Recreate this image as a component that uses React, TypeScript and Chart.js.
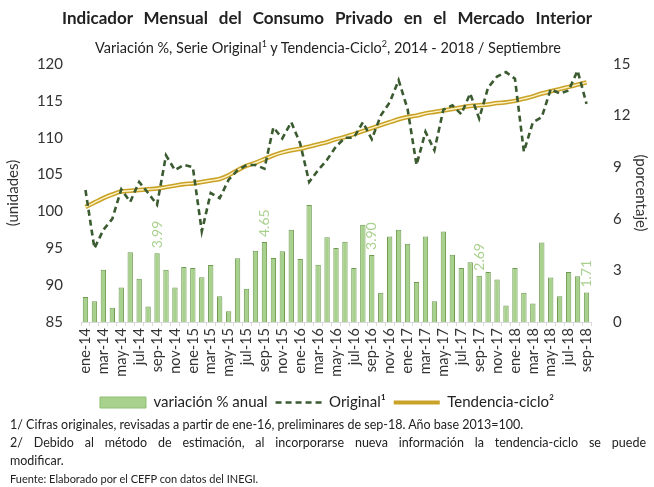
import React, { useEffect, useRef } from "react";
import { Chart, registerables } from "chart.js";
Chart.register(...registerables);

const categories = [
  "ene-14","feb-14","mar-14","abr-14","may-14","jun-14","jul-14","ago-14","sep-14","oct-14","nov-14","dic-14",
  "ene-15","feb-15","mar-15","abr-15","may-15","jun-15","jul-15","ago-15","sep-15","oct-15","nov-15","dic-15",
  "ene-16","feb-16","mar-16","abr-16","may-16","jun-16","jul-16","ago-16","sep-16","oct-16","nov-16","dic-16",
  "ene-17","feb-17","mar-17","abr-17","may-17","jun-17","jul-17","ago-17","sep-17","oct-17","nov-17","dic-17",
  "ene-18","feb-18","mar-18","abr-18","may-18","jun-18","jul-18","ago-18","sep-18",
];

// variación % anual (right axis)
const variacion = [
  1.45, 1.21, 3.04, 0.83, 2.0, 4.05, 2.52, 0.9, 3.99, 3.04, 2.0, 3.2,
  3.14, 2.6, 3.31, 1.5, 0.62, 3.7, 1.93, 4.14, 4.65, 3.72, 4.12, 5.36,
  3.66, 6.8, 3.33, 4.93, 4.3, 4.66, 3.14, 5.65, 3.9, 1.7, 4.97, 5.36,
  4.55, 2.33, 4.97, 1.21, 5.26, 3.91, 3.14, 3.47, 2.69, 2.9, 2.47, 0.96,
  3.14, 1.7, 1.08, 4.62, 2.58, 1.5, 2.9, 2.66, 1.71,
];

// Serie original (left axis)
const original = [
  102.9, 95.0, 97.5, 99.0, 103.0, 101.3, 104.0, 102.5, 100.9, 107.6, 105.6, 106.3,
  106.0, 97.3, 102.5, 101.8, 104.3, 105.6, 106.3, 106.3, 105.8, 111.4, 109.9, 112.1,
  109.2, 104.0, 105.6, 107.0, 108.8, 110.0, 110.0, 112.1, 109.8, 113.0, 114.8, 117.8,
  113.9, 106.3, 110.8, 108.3, 113.8, 114.4, 113.2, 116.0, 112.6, 116.8, 118.3, 118.9,
  118.0, 108.1, 112.1, 112.8, 116.6, 116.0, 116.4, 119.1, 114.6,
];

// Tendencia-ciclo (left axis)
const tendencia = [
  100.6, 101.2, 101.8, 102.3, 102.7, 102.8, 102.9, 103.0, 103.1, 103.3, 103.5, 103.7,
  103.8, 104.0, 104.2, 104.4, 104.9, 105.6, 106.2, 106.6, 107.1, 107.6, 108.0, 108.3,
  108.5, 108.8, 109.1, 109.4, 109.8, 110.1, 110.5, 110.9, 111.3, 111.7, 112.1, 112.5,
  112.8, 113.0, 113.3, 113.5, 113.7, 113.9, 114.1, 114.3, 114.4, 114.5, 114.7, 114.8,
  115.0, 115.3, 115.6, 116.0, 116.3, 116.6, 116.9, 117.2, 117.5,
];

// bars whose value is printed (septiembre de cada año)
const labeledBars = ["sep-14", "sep-15", "sep-16", "sep-17", "sep-18"];

const leftTicks = { min: 85, max: 120, step: 5 };
const rightTicks = { min: 0, max: 15, step: 3 };

const FONT = "Lato, 'Open Sans', sans-serif";

const barLabelPlugin = {
  id: "barLabels",
  afterDatasetsDraw(chart: any) {
    const meta = chart.getDatasetMeta(0);
    const ctx = chart.ctx;
    ctx.save();
    ctx.fillStyle = "#a9d18e";
    ctx.font = `14px ${FONT}`;
    ctx.textAlign = "left";
    ctx.textBaseline = "middle";
    labeledBars.forEach((lab) => {
      const i = categories.indexOf(lab);
      const el = meta.data[i];
      if (!el) return;
      ctx.save();
      ctx.translate(el.x, el.y - 5);
      ctx.rotate(-Math.PI / 2);
      ctx.fillText(variacion[i].toFixed(2), 0, 0);
      ctx.restore();
    });
    ctx.restore();
  },
};

export default function App() {
  const ref = useRef<HTMLCanvasElement>(null);
  useEffect(() => {
    document.body.style.margin = "0";
    const chart = new Chart(ref.current!, {
      type: "bar",
      data: {
        labels: categories,
        datasets: [
          {
            type: "bar",
            label: "variación % anual",
            data: variacion,
            yAxisID: "y1",
            backgroundColor: "#a9d18e",
            borderColor: "#6e9b50",
            borderWidth: 1,
            barPercentage: 0.6,
            categoryPercentage: 1,
            order: 5,
          } as any,
          {
            type: "line",
            label: "Original¹",
            data: original,
            yAxisID: "y",
            borderColor: "#3a5a30",
            borderWidth: 2.6,
            borderDash: [6, 4],
            pointRadius: 0,
            tension: 0,
            fill: false,
            order: 1,
          } as any,
          {
            type: "line",
            label: "Tendencia-ciclo²",
            data: tendencia,
            yAxisID: "y",
            borderColor: "#c9a227",
            borderWidth: 4.5,
            pointRadius: 0,
            tension: 0.3,
            fill: false,
            order: 3,
          } as any,
          {
            type: "line",
            label: "_inner",
            data: tendencia,
            yAxisID: "y",
            borderColor: "#fff4c8",
            borderWidth: 1.4,
            pointRadius: 0,
            tension: 0.3,
            fill: false,
            order: 2,
          } as any,
        ],
      },
      options: {
        animation: false,
        responsive: false,
        maintainAspectRatio: false,
        layout: { padding: { top: 64, bottom: 67, left: 0, right: 0 } },
        plugins: {
          title: { display: false },
          tooltip: { enabled: false },
          legend: {
            position: "bottom",
            labels: {
              font: { family: FONT, size: 15 },
              color: "#222",
              usePointStyle: true,
              pointStyleWidth: 46,
              boxHeight: 11,
              padding: 8,
              sort: (a: any, b: any) => a.datasetIndex - b.datasetIndex,
              filter: (item: any) => item.text !== "_inner",
              generateLabels: (ch: any) => {
                const base = Chart.defaults.plugins.legend.labels.generateLabels(ch);
                return base.map((it: any) => {
                  if (it.datasetIndex === 0) {
                    return { ...it, pointStyle: "rect", fillStyle: "#a9d18e", strokeStyle: "#8fbf70", lineWidth: 1 };
                  }
                  if (it.datasetIndex === 1) {
                    return { ...it, pointStyle: "line", strokeStyle: "#3a5a30", lineWidth: 2.6, lineDash: [6, 4] };
                  }
                  if (it.datasetIndex === 2) {
                    return { ...it, pointStyle: "line", strokeStyle: "#c9a227", lineWidth: 4, lineDash: [] };
                  }
                  return it;
                });
              },
            },
          },
        },
        scales: {
          x: {
            offset: true,
            grid: { display: true, drawOnChartArea: false, drawTicks: true, tickLength: 4, color: "#d9d9d9" },
            border: { display: true, color: "#d9d9d9" },
            ticks: {
              autoSkip: false,
              maxRotation: 90,
              minRotation: 90,
              color: "#333",
              font: { family: FONT, size: 14.5 },
              padding: 2,
              callback: (_v: any, i: number) => (i % 2 === 0 ? categories[i] : ""),
            },
            afterFit: (s: any) => { s.height = 65; },
          },
          y: {
            position: "left",
            min: leftTicks.min,
            max: leftTicks.max,
            ticks: { stepSize: leftTicks.step, color: "#333", font: { family: FONT, size: 15 }, padding: 10 },
            grid: { display: false },
            border: { display: false },
            title: { display: true, text: "(unidades)", color: "#333", font: { family: FONT, size: 15 }, padding: 4 },
            afterFit: (s: any) => { s.width = 81; },
          },
          y1: {
            position: "right",
            min: rightTicks.min,
            max: rightTicks.max,
            ticks: { stepSize: rightTicks.step, color: "#333", font: { family: FONT, size: 15 }, padding: 14 },
            grid: { display: false },
            border: { display: false },
            title: { display: true, text: "(porcentaje)", color: "#333", font: { family: FONT, size: 15 }, padding: 4 },
            afterFit: (s: any) => { s.width = 63; },
          },
        },
      },
      plugins: [barLabelPlugin],
    } as any);
    return () => chart.destroy();
  }, []);

  const foot: React.CSSProperties = { position: "absolute", left: 10, fontSize: 12.5, color: "#222", whiteSpace: "nowrap", lineHeight: "16px" };

  return (
    <div style={{ position: "fixed", left: 0, top: 0, width: 654, height: 487, background: "#fff", fontFamily: FONT, overflow: "hidden" }}>
      <canvas ref={ref} width={654} height={487} style={{ position: "absolute", left: 0, top: 0 }} />
      <div style={{ position: "absolute", top: 7, left: 62, width: 530, textAlign: "justify", textAlignLast: "justify", fontWeight: 700, fontSize: 17, color: "#222", lineHeight: "22px" }}>
        Indicador Mensual del Consumo Privado en el Mercado Interior
      </div>
      <div style={{ position: "absolute", top: 34, left: 68, width: 520, textAlign: "center", fontSize: 14.5, color: "#222", lineHeight: "20px", whiteSpace: "nowrap" }}>
        Variación %, Serie Original<sup style={{ fontSize: 9 }}>1</sup> y Tendencia-Ciclo<sup style={{ fontSize: 9 }}>2</sup>, 2014 - 2018 / Septiembre
      </div>
      <div style={{ ...foot, top: 417 }}>
        1/ Cifras originales, revisadas a partir de ene-16, preliminares de sep-18. Año base 2013=100.
      </div>
      <div style={{ ...foot, top: 435, width: 636, whiteSpace: "normal", textAlign: "justify", textAlignLast: "justify" }}>
        2/ Debido al método de estimación, al incorporarse nueva información la tendencia-ciclo se puede
      </div>
      <div style={{ ...foot, top: 453 }}>modificar.</div>
      <div style={{ ...foot, top: 471, fontSize: 11 }}>Fuente: Elaborado por el CEFP con datos del INEGI.</div>
    </div>
  );
}
